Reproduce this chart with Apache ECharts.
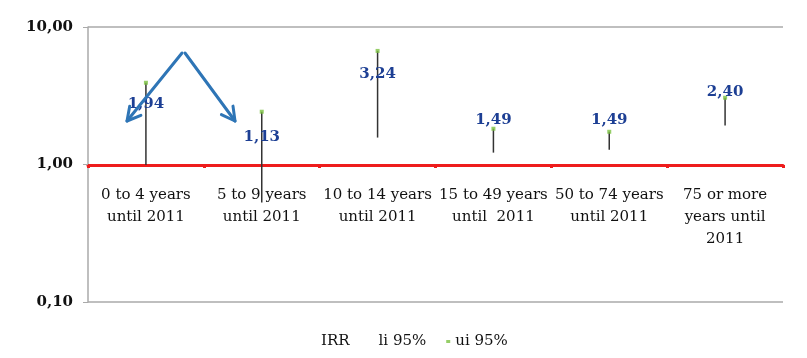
<!DOCTYPE html>
<html><head><meta charset="utf-8">
<script src="https://cdn.jsdelivr.net/npm/echarts@6/dist/echarts.min.js"></script>
<style>html,body{margin:0;padding:0;background:#fff}#c{width:807px;height:358px}</style>
</head><body><div id="c"></div>
<script>
const categories = ['0 to 4 years\nuntil 2011','5 to 9 years\nuntil 2011','10 to 14 years\nuntil 2011','15 to 49 years\nuntil  2011','50 to 74 years\nuntil 2011','75 or more\nyears until\n2011'];
const irr = [1.94, 1.13, 3.24, 1.49, 1.49, 2.40];
const li95 = [0.99, 0.53, 1.57, 1.22, 1.28, 1.92];
const ui95 = [3.93, 2.42, 6.70, 1.82, 1.73, 3.06];
const yTicks = [0.1, 1, 10];

const font = 'DejaVu Serif';
const fmt = v => v.toFixed(2).replace('.', ',');
const chart = echarts.init(document.getElementById('c'));
const blue = '#2e75b6';
function arrow(x1,y1,x2,y2){
  const a = Math.atan2(y2-y1,x2-x1), L=15, s=0.5;
  return [
    {type:'line',shape:{x1,y1,x2,y2},style:{stroke:blue,lineWidth:3,lineCap:'round'},z:100},
    {type:'polyline',shape:{points:[[x2-L*Math.cos(a-s),y2-L*Math.sin(a-s)],[x2,y2],[x2-L*Math.cos(a+s),y2-L*Math.sin(a+s)]]},style:{stroke:blue,fill:null,lineWidth:3,lineJoin:'round',lineCap:'round'},z:100}
  ];
}
chart.setOption({
  animation:false,
  textStyle:{fontFamily:font},
  grid:{left:88,right:24,top:27,bottom:56},
  legend:{left:307,top:329,itemGap:20,itemWidth:4,itemHeight:3,
    textStyle:{fontFamily:font,fontSize:15,color:'#111'},
    data:[{name:'IRR',icon:'rect',itemStyle:{color:'rgba(0,0,0,0)'}},
          {name:'li 95%',icon:'rect',itemStyle:{color:'rgba(0,0,0,0)'}},
          {name:'ui 95%',icon:'rect',itemStyle:{color:'#7cc242'}}]},
  xAxis:{type:'category',data:categories,position:'bottom',offset:-137,
    axisLine:{lineStyle:{color:'#ee1c1c',width:3}},
    axisTick:{show:true,length:3,lineStyle:{color:'#ee1c1c',width:3}},
    axisLabel:{interval:0,margin:19,fontFamily:font,fontSize:15,color:'#111',lineHeight:22}},
  yAxis:{type:'log',logBase:10,min:0.1,max:10,
    axisLine:{show:true,lineStyle:{color:'#aaa',width:1.5}},
    axisTick:{show:true,length:5,lineStyle:{color:'#aaa'}},
    splitLine:{show:true,lineStyle:{color:'#aaa',width:1.5}},
    axisLabel:{formatter:v=>fmt(v),fontFamily:font,fontSize:15,fontWeight:'bold',color:'#111',margin:15}},
  series:[
    {name:'li 95%',type:'custom',
      data:categories.map((c,i)=>[i,li95[i],ui95[i]]),
      encode:{x:0,y:[1,2]},
      renderItem:(params,api)=>{
        const t=api.coord([api.value(0),api.value(2)]);
        const b=api.coord([api.value(0),api.value(1)]);
        return {type:'line',shape:{x1:t[0],y1:t[1],x2:b[0],y2:b[1]},style:{stroke:'#333',lineWidth:1.5}};
      },z:3},
    {name:'ui 95%',type:'scatter',data:ui95,symbol:'rect',symbolSize:4,itemStyle:{color:'#7cc242'},z:4},
    {name:'IRR',type:'scatter',data:irr,symbolSize:0,itemStyle:{color:'rgba(0,0,0,0)'},
      label:{show:true,position:'top',distance:13,formatter:p=>fmt(p.value),
        fontFamily:font,fontSize:15,fontWeight:'bold',color:'#1d3f94',opacity:1},
      emphasis:{disabled:true},z:5}
  ],
  graphic:[...arrow(182,53,127,121),...arrow(185,53,235,121)]
});
</script></body></html>
